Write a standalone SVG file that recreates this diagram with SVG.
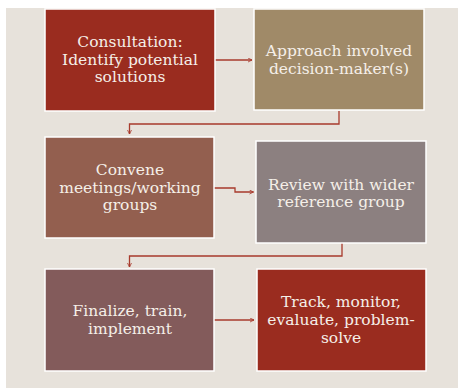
<svg xmlns="http://www.w3.org/2000/svg" width="458" height="388" viewBox="0 0 458 388">
<defs>
<marker id="arr" viewBox="0 0 10 10" refX="9" refY="5" markerWidth="5" markerHeight="5" orient="auto" markerUnits="userSpaceOnUse">
<path d="M1,1 L9,5 L1,9" fill="none" stroke="#A83A2C" stroke-width="1.6"/>
</marker>
<style>
.box{stroke:#FFFFFF;stroke-width:1.5}
.t{font-family:"DejaVu Serif","Liberation Serif",serif;font-size:15.5px;fill:#F5EFE8;text-anchor:middle}
.c{fill:none;stroke:#A83A2C;stroke-width:1.3}
</style>
</defs>
<rect x="0" y="0" width="458" height="388" fill="#FFFFFF"/>
<rect x="6" y="8" width="452" height="380" fill="#E7E2DB"/>
<g id="connectors">
<path class="c" d="M215,60 H252" marker-end="url(#arr)"/>
<path class="c" d="M339,111 V124 H129.5 V134" marker-end="url(#arr)"/>
<path class="c" d="M214,188 H235 V192 H253.5" marker-end="url(#arr)"/>
<path class="c" d="M342,243 V256 H129.5 V267" marker-end="url(#arr)"/>
<path class="c" d="M214,320 H254" marker-end="url(#arr)"/>
</g>
<g id="n1">
<rect class="box" x="45" y="9" width="170" height="102" fill="#9A2C1F"/>
<text class="t" x="130" y="47">Consultation:</text>
<text class="t" x="130" y="64.5">Identify potential</text>
<text class="t" x="130" y="82">solutions</text>
</g>
<g id="n2">
<rect class="box" x="254" y="9" width="170" height="101" fill="#A08A68"/>
<text class="t" x="339" y="56">Approach involved</text>
<text class="t" x="339" y="73.5">decision-maker(s)</text>
</g>
<g id="n3">
<rect class="box" x="45" y="137" width="169" height="101" fill="#935F4F"/>
<text class="t" x="130" y="175">Convene</text>
<text class="t" x="130" y="192.5">meetings/working</text>
<text class="t" x="130" y="210">groups</text>
</g>
<g id="n4">
<rect class="box" x="256" y="141" width="170" height="102" fill="#8C8080"/>
<text class="t" x="341" y="189.5">Review with wider</text>
<text class="t" x="341" y="207">reference group</text>
</g>
<g id="n5">
<rect class="box" x="45" y="269" width="169" height="102" fill="#835B5B"/>
<text class="t" x="130" y="316">Finalize, train,</text>
<text class="t" x="130" y="334">implement</text>
</g>
<g id="n6">
<rect class="box" x="257" y="269" width="169" height="102" fill="#9A2C1F"/>
<text class="t" x="341" y="307">Track, monitor,</text>
<text class="t" x="341" y="325">evaluate, problem-</text>
<text class="t" x="341" y="343">solve</text>
</g>
</svg>
